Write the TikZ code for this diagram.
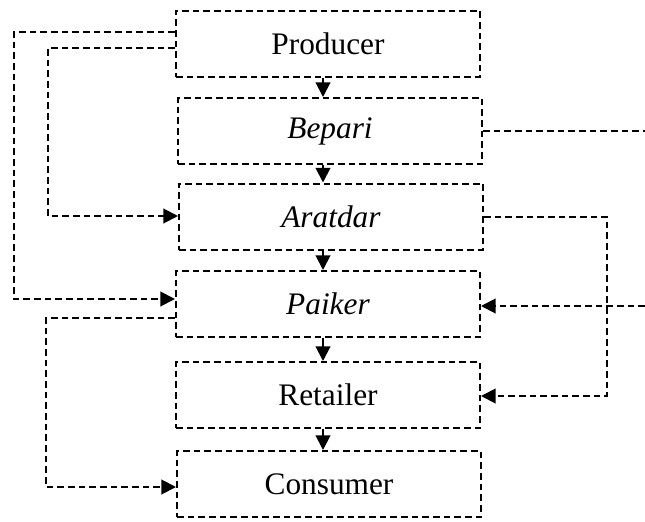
\documentclass[tikz,border=0pt]{standalone}
\usepackage{fontspec}
\setmainfont{Liberation Serif}
\usetikzlibrary{arrows.meta}
\begin{document}
\begin{tikzpicture}[x=0.75pt,y=-0.75pt,
  dsh/.style={line width=1.5pt,dash pattern=on 5pt off 3pt},
  box/.style={dsh,draw,minimum width=304*0.75pt,minimum height=66*0.75pt,inner sep=0pt,font=\fontsize{23.5}{27}\selectfont},
  arr/.style={dsh,-{Triangle[length=11pt,width=11pt]}},
  down/.style={line width=1.5pt,-{Triangle[length=11pt,width=11pt]}}]
\useasboundingbox (0,0) rectangle (645,521);
\node[box] (Producer) at (328,43.5) {Producer};
\node[box] (Bepari)   at (330,131)  {\textit{Bepari}};
\node[box] (Aratdar)  at (331,216.5) {\textit{Aratdar}};
\node[box] (Paiker)   at (328,304)  {\textit{Paiker}};
\node[box] (Retailer) at (328,395)  {Retailer};
\node[box] (Consumer) at (329,484)  {Consumer};
% vertical arrows
\draw[down] (Producer.south -| 323,0) -- (Bepari.north -| 323,0);
\draw[down] (Bepari.south -| 323,0) -- (Aratdar.north -| 323,0);
\draw[down] (Aratdar.south -| 323,0) -- (Paiker.north -| 323,0);
\draw[down] (Paiker.south -| 323,0) -- (Retailer.north -| 323,0);
\draw[down] (Retailer.south -| 323,0) -- (Consumer.north -| 323,0);
% left side
\coordinate (l1a) at (14,32);
\coordinate (l1b) at (14,299);
\draw[arr] (Producer.west |- l1a) -- (l1a) -- (l1b) -- (Paiker.west |- l1b);
\coordinate (l2a) at (48,48);
\coordinate (l2b) at (48,216);
\draw[arr] (Producer.west |- l2a) -- (l2a) -- (l2b) -- (Aratdar.west |- l2b);
\coordinate (l3a) at (46,318);
\coordinate (l3b) at (46,487);
\draw[arr] (Paiker.west |- l3a) -- (l3a) -- (l3b) -- (Consumer.west |- l3b);
% right side
\coordinate (r1) at (645,131);
\draw[dsh] (Bepari.east) -- (r1);
\coordinate (r2) at (645,306);
\draw[arr] (r2) -- (Paiker.east |- r2);
\coordinate (r3a) at (607,216.5);
\coordinate (r3b) at (607,396);
\draw[arr] (Aratdar.east) -- (r3a) -- (r3b) -- (Retailer.east |- r3b);
\end{tikzpicture}
\end{document}
